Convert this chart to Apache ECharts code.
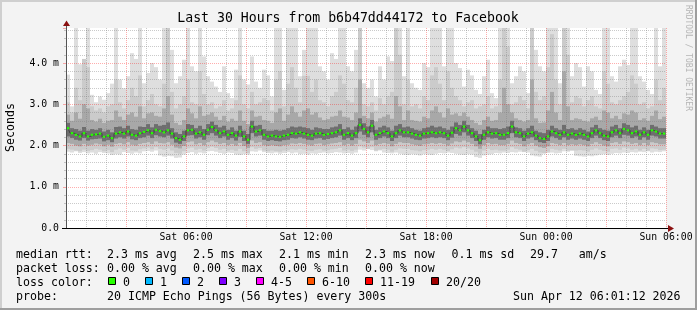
<!DOCTYPE html>
<html><head><meta charset="utf-8">
<script src="https://cdn.jsdelivr.net/npm/echarts@6/dist/echarts.min.js"></script>
<style>html,body{margin:0;padding:0;background:#f3f3f3}#c{width:697px;height:310px}</style>
</head><body><div id="c"></div>
<script>
// ---------- data ----------
const STEP_HOURS = 0.2; // one column = 12 minutes, 150 columns = 30 hours
const xTickHours = [6, 12, 18, 24, 30];
const xTickText = ['Sat 06:00', 'Sat 12:00', 'Sat 18:00', 'Sun 00:00', 'Sun 06:00'];

// median rtt (ms)
const pingMedian = [
2.42,2.30,2.26,2.22,2.30,2.22,2.26,2.27,2.29,2.21,
2.24,2.18,2.29,2.32,2.29,2.34,2.26,2.24,2.30,2.33,
2.37,2.30,2.38,2.35,2.32,2.37,2.29,2.18,2.14,2.22,
2.37,2.38,2.29,2.32,2.26,2.38,2.45,2.37,2.30,2.34,
2.26,2.30,2.24,2.34,2.22,2.14,2.46,2.34,2.37,2.26,
2.22,2.24,2.22,2.21,2.24,2.26,2.30,2.29,2.32,2.29,
2.26,2.24,2.29,2.30,2.26,2.28,2.30,2.32,2.37,2.26,
2.30,2.24,2.30,2.50,2.40,2.32,2.48,2.26,2.30,2.34,
2.30,2.22,2.30,2.37,2.32,2.32,2.29,2.26,2.24,2.29,
2.30,2.32,2.30,2.32,2.30,2.24,2.31,2.42,2.37,2.46,
2.37,2.30,2.22,2.13,2.26,2.32,2.29,2.30,2.26,2.26,
2.30,2.46,2.32,2.30,2.22,2.29,2.32,2.24,2.18,2.16,
2.22,2.34,2.30,2.26,2.32,2.26,2.29,2.26,2.29,2.26,
2.22,2.30,2.37,2.30,2.24,2.22,2.32,2.37,2.30,2.40,
2.37,2.30,2.34,2.26,2.32,2.26,2.37,2.34,2.29,2.29];

// smoke envelope: slowest ping of each step (clipped at the top of the graph)
const pingMax = [
3.72,2.95,4.85,3.97,4.08,4.85,3.23,3.05,3.19,3.11,
3.27,3.50,4.85,3.60,3.39,3.68,4.24,4.10,4.85,3.51,
3.76,4.00,3.90,3.60,4.85,4.85,4.32,3.51,3.68,4.08,
4.85,3.92,3.80,4.85,4.16,3.68,3.55,3.43,3.30,3.92,
3.27,3.15,3.84,4.85,3.60,3.48,4.16,3.55,3.40,3.84,
3.70,3.19,4.85,4.85,3.35,4.85,4.85,4.85,3.68,4.32,
4.85,4.85,4.85,3.92,3.80,3.60,4.24,4.10,4.85,4.85,
3.92,3.80,4.32,4.85,3.51,3.40,3.60,3.19,3.92,3.60,
4.16,4.05,4.85,4.85,3.68,4.85,3.51,3.40,3.35,4.00,
3.90,4.85,4.85,4.85,3.92,4.85,4.85,4.00,3.88,3.43,
3.84,3.70,3.35,3.25,3.68,4.08,3.27,3.15,4.85,4.85,
4.85,3.51,3.68,3.92,3.80,3.27,4.85,4.32,3.92,3.80,
4.85,4.85,4.85,3.51,4.85,4.85,3.68,4.00,3.90,3.43,
3.92,3.80,3.35,3.25,4.85,4.85,3.68,3.55,3.92,4.08,
3.95,4.85,4.85,3.68,3.55,3.35,3.25,4.85,3.92,4.85];

// upper edge of the second smoke band
const pingHigh = [
3.05,2.80,3.40,3.10,4.10,3.90,2.95,2.85,2.90,2.80,
2.95,3.00,3.60,3.05,2.90,3.10,3.40,3.20,3.70,2.95,
3.10,3.25,3.00,2.95,3.50,4.85,3.30,2.90,3.00,3.20,
3.60,3.05,3.00,3.80,3.25,3.00,3.05,2.90,2.95,3.10,
2.85,2.90,3.10,3.70,3.00,2.90,3.30,3.00,3.05,3.15,
3.10,2.85,3.60,3.80,2.95,3.50,3.90,3.40,3.05,3.69,
3.69,3.30,3.60,3.10,3.05,2.95,3.20,3.30,3.70,3.50,
3.10,3.05,3.40,4.85,3.00,2.95,3.05,2.85,3.15,3.00,
3.20,3.30,4.85,4.20,3.00,3.60,2.95,3.00,2.90,3.20,
3.10,3.70,3.90,3.50,3.10,3.80,3.40,3.20,3.10,2.95,
3.05,3.10,2.90,2.95,3.00,3.20,2.90,2.95,3.60,4.85,
4.40,3.00,3.05,3.20,3.10,2.90,4.85,3.30,3.10,3.20,
3.90,4.70,3.60,3.00,4.85,4.20,3.05,3.20,3.15,2.95,
3.10,3.20,2.95,2.90,3.80,3.50,3.05,3.00,3.10,3.20,
3.30,3.70,3.50,3.00,3.05,2.90,2.95,3.60,3.10,3.40];

// upper edge of the middle smoke band
const pingMidHigh = [
2.75,2.60,2.80,2.65,3.00,2.90,2.62,2.58,2.65,2.55,
2.60,2.62,2.85,2.70,2.62,2.75,2.80,2.70,2.95,2.66,
2.78,2.80,2.72,2.70,2.90,3.20,2.75,2.55,2.50,2.62,
2.90,2.78,2.66,2.95,2.72,2.75,2.80,2.70,2.62,2.72,
2.58,2.65,2.60,2.85,2.60,2.52,2.85,2.70,2.72,2.62,
2.60,2.55,2.80,2.90,2.60,2.75,2.95,2.80,2.70,2.85,
2.90,2.75,2.80,2.68,2.62,2.64,2.70,2.72,2.85,2.70,
2.68,2.62,2.80,3.60,2.72,2.66,2.80,2.58,2.66,2.70,
2.75,2.65,3.20,2.95,2.62,2.85,2.62,2.60,2.58,2.70,
2.66,2.85,2.95,2.80,2.68,2.90,2.75,2.78,2.72,2.80,
2.70,2.62,2.55,2.50,2.62,2.70,2.60,2.62,2.80,3.40,
3.00,2.80,2.66,2.62,2.58,2.62,3.60,2.66,2.55,2.56,
2.85,3.30,2.80,2.62,3.80,2.95,2.62,2.66,2.64,2.60,
2.58,2.66,2.70,2.62,2.85,2.80,2.66,2.72,2.64,2.78,
2.75,2.85,2.80,2.62,2.66,2.60,2.72,2.85,2.64,2.70];

// upper edge of the dark core
const pingCoreHigh = [
2.55,2.42,2.40,2.36,2.45,2.36,2.40,2.38,2.42,2.34,
2.38,2.32,2.45,2.46,2.42,2.48,2.40,2.38,2.46,2.45,
2.52,2.44,2.52,2.48,2.50,2.56,2.42,2.32,2.28,2.36,
2.52,2.50,2.42,2.48,2.40,2.52,2.58,2.50,2.44,2.48,
2.38,2.44,2.36,2.48,2.36,2.28,2.60,2.48,2.50,2.40,
2.36,2.36,2.38,2.36,2.38,2.42,2.46,2.44,2.46,2.44,
2.42,2.38,2.44,2.42,2.40,2.40,2.44,2.46,2.52,2.40,
2.44,2.38,2.46,2.66,2.54,2.46,2.62,2.38,2.44,2.48,
2.44,2.36,2.48,2.52,2.44,2.46,2.42,2.38,2.36,2.42,
2.44,2.48,2.44,2.46,2.42,2.38,2.46,2.56,2.50,2.60,
2.50,2.42,2.36,2.28,2.38,2.46,2.42,2.42,2.40,2.42,
2.46,2.60,2.44,2.42,2.36,2.42,2.48,2.36,2.32,2.30,
2.38,2.48,2.42,2.38,2.50,2.40,2.42,2.38,2.42,2.38,
2.34,2.44,2.50,2.42,2.38,2.36,2.46,2.50,2.42,2.54,
2.50,2.44,2.48,2.38,2.44,2.38,2.50,2.46,2.42,2.42];

// lower edge of the dark core
const pingCoreLow = [
2.22,2.18,2.14,2.12,2.18,2.12,2.15,2.16,2.17,2.10,
2.13,2.08,2.17,2.20,2.17,2.22,2.15,2.13,2.18,2.20,
2.24,2.18,2.25,2.22,2.20,2.24,2.17,2.07,2.04,2.11,
2.24,2.25,2.17,2.20,2.14,2.25,2.30,2.24,2.18,2.22,
2.14,2.18,2.12,2.21,2.11,2.04,2.30,2.22,2.24,2.14,
2.11,2.13,2.11,2.10,2.13,2.14,2.18,2.17,2.20,2.17,
2.14,2.13,2.17,2.18,2.14,2.16,2.18,2.20,2.24,2.14,
2.18,2.13,2.18,2.34,2.26,2.20,2.32,2.14,2.18,2.22,
2.18,2.11,2.18,2.24,2.20,2.20,2.17,2.14,2.13,2.17,
2.18,2.20,2.18,2.20,2.18,2.13,2.19,2.28,2.24,2.32,
2.24,2.18,2.11,2.03,2.14,2.20,2.17,2.18,2.14,2.14,
2.18,2.30,2.20,2.18,2.11,2.17,2.20,2.13,2.08,2.06,
2.11,2.22,2.18,2.14,2.20,2.14,2.17,2.14,2.17,2.14,
2.11,2.18,2.24,2.18,2.13,2.11,2.20,2.24,2.18,2.26,
2.24,2.18,2.22,2.14,2.20,2.14,2.24,2.22,2.17,2.17];

// lower edge of the middle smoke band
const pingMidLow = [
2.06,2.04,2.00,1.98,2.04,2.00,2.02,2.05,2.03,1.98,
2.02,1.97,2.04,2.06,2.03,2.08,2.02,2.00,2.04,2.06,
2.08,2.04,2.10,2.06,2.05,2.08,2.02,1.95,1.93,1.99,
2.08,2.10,2.03,2.06,2.01,2.08,2.12,2.08,2.04,2.06,
2.01,2.04,2.00,2.06,1.99,1.94,2.12,2.06,2.08,2.01,
1.99,2.01,1.99,1.98,2.01,2.02,2.05,2.04,2.06,2.04,
2.02,2.00,2.04,2.05,2.01,2.03,2.05,2.06,2.08,2.01,
2.04,2.00,2.04,2.14,2.10,2.06,2.12,2.01,2.04,2.06,
2.04,1.98,2.04,2.08,2.06,2.06,2.03,2.01,1.99,2.03,
2.04,2.06,2.04,2.06,2.04,2.00,2.05,2.10,2.08,2.12,
2.08,2.04,1.98,1.92,2.01,2.06,2.03,2.04,2.01,2.01,
2.04,2.12,2.06,2.04,1.98,2.03,2.06,2.00,1.96,1.94,
1.98,2.06,2.04,2.01,2.06,2.01,2.03,2.01,2.03,2.01,
1.98,2.04,2.08,2.04,2.00,1.98,2.06,2.08,2.04,2.10,
2.08,2.04,2.06,2.01,2.06,2.01,2.08,2.06,2.03,2.03];

// lower edge of the second smoke band
const pingLow = [
1.92,1.90,1.88,1.86,1.90,1.87,1.89,1.92,1.90,1.86,
1.89,1.84,1.90,1.93,1.90,1.94,1.88,1.87,1.91,1.93,
1.95,1.91,1.96,1.92,1.90,1.93,1.88,1.82,1.80,1.86,
1.93,1.95,1.90,1.92,1.88,1.94,1.97,1.94,1.90,1.92,
1.88,1.90,1.87,1.92,1.86,1.82,1.96,1.92,1.94,1.88,
1.86,1.88,1.86,1.85,1.88,1.89,1.91,1.90,1.92,1.90,
1.88,1.87,1.90,1.91,1.88,1.89,1.91,1.92,1.94,1.88,
1.90,1.87,1.90,1.98,1.95,1.92,1.96,1.88,1.90,1.92,
1.90,1.85,1.90,1.93,1.92,1.92,1.89,1.88,1.86,1.89,
1.90,1.92,1.90,1.92,1.90,1.87,1.91,1.95,1.93,1.96,
1.93,1.90,1.85,1.80,1.88,1.92,1.89,1.90,1.88,1.88,
1.90,1.96,1.92,1.90,1.85,1.89,1.92,1.87,1.83,1.82,
1.85,1.92,1.90,1.88,1.92,1.88,1.89,1.88,1.89,1.88,
1.85,1.90,1.93,1.90,1.87,1.85,1.92,1.93,1.90,1.95,
1.93,1.90,1.92,1.88,1.92,1.88,1.93,1.92,1.89,1.90];

// fastest ping of each step
const pingMin = [
1.85,1.83,1.86,1.82,1.84,1.81,1.83,1.80,1.84,1.82,
1.81,1.77,1.79,1.78,1.84,1.82,1.80,1.83,1.81,1.86,
1.87,1.85,1.88,1.76,1.73,1.75,1.74,1.70,1.71,1.78,
1.82,1.84,1.80,1.83,1.81,1.86,1.87,1.85,1.82,1.80,
1.83,1.82,1.78,1.77,1.79,1.78,1.86,1.85,1.88,1.84,
1.82,1.81,1.83,1.80,1.82,1.84,1.81,1.83,1.79,1.80,
1.78,1.81,1.80,1.82,1.83,1.81,1.82,1.84,1.83,1.81,
1.82,1.80,1.83,1.90,1.88,1.91,1.89,1.86,1.88,1.83,
1.82,1.81,1.83,1.80,1.78,1.77,1.79,1.78,1.76,1.79,
1.78,1.77,1.80,1.82,1.81,1.83,1.82,1.80,1.78,1.77,
1.79,1.78,1.72,1.70,1.76,1.78,1.79,1.82,1.81,1.83,
1.82,1.84,1.83,1.85,1.84,1.83,1.76,1.74,1.73,1.80,
1.82,1.83,1.81,1.82,1.86,1.85,1.87,1.75,1.74,1.73,
1.75,1.74,1.76,1.78,1.79,1.77,1.80,1.82,1.81,1.83,
1.82,1.84,1.83,1.85,1.84,1.86,1.83,1.85,1.84,1.86];

// legend texts
const titleText = 'Last 30 Hours from b6b47dd44172 to Facebook';
const rttStats = ['2.3 ms avg', '2.5 ms max', '2.1 ms min', '2.3 ms now', '0.1 ms sd', '29.7   am/s'];
const lossStats = ['0.00 % avg', '0.00 % max', '0.00 % min', '0.00 % now'];
const lossLabels = ['0', '1', '2', '3', '4-5', '6-10', '11-19', '20/20'];
const lossColors = ['#26ff00', '#00b8ff', '#0059ff', '#7e00ff', '#ff00ff', '#ff5500', '#ff0000', '#a00000'];
const probeText = '20 ICMP Echo Pings (56 Bytes) every 300s';
const stampText = 'Sun Apr 12 06:01:12 2026';

// ---------- chart ----------
const FONT = '"DejaVu Sans Mono"';
const chart = echarts.init(document.getElementById('c'), null, {renderer: 'canvas', width: 697, height: 310});

function band(lo, hi, color) {
  return {
    type: 'custom', z: 2, silent: true, clip: true, animation: false,
    data: lo.map((v, i) => [i * STEP_HOURS, v, hi[i]]),
    renderItem(params, api) {
      const t = api.value(0);
      const a = api.coord([t, api.value(1)]);
      const b = api.coord([t + STEP_HOURS, api.value(2)]);
      return {type: 'rect', shape: {x: a[0], y: b[1], width: b[0] - a[0], height: a[1] - b[1]},
              style: {fill: color}};
    }
  };
}

const medianCenters = pingMedian.map((v, i) => [i * STEP_HOURS + STEP_HOURS / 2, v]);

const series = [
  band(pingMin, pingMax, '#dedede'),
  band(pingLow, pingHigh, '#cbcbcb'),
  band(pingMidLow, pingMidHigh, '#a8a8a8'),
  band(pingCoreLow, pingCoreHigh, '#6e6e6e'),
  {type: 'line', z: 3, data: medianCenters, step: 'middle', symbol: 'none', silent: true,
   animation: false, lineStyle: {color: '#404040', width: 1}},
  {type: 'custom', z: 4, silent: true, animation: false, data: medianCenters,
   renderItem(params, api) {
     const c = api.coord([api.value(0), api.value(1)]);
     return {type: 'rect', shape: {x: c[0] - 1.25, y: c[1] - 1.1, width: 2.5, height: 2.2},
             style: {fill: lossColors[0]}};
   }}
];

const MAJOR = 'rgba(255,0,0,0.32)';
const MINOR = 'rgba(128,128,128,0.42)';

const g = [];
const T = (x, y, text, extra) => Object.assign({type: 'text', x, y, z: 120,
  style: Object.assign({text, fill: '#000', font: '11.6px ' + FONT, verticalAlign: 'middle'}, extra || {})});
// frame
g.push({type: 'rect', z: 110, shape: {x: 0, y: 0, width: 697, height: 2}, style: {fill: '#cfcfcf'}});
g.push({type: 'rect', z: 110, shape: {x: 0, y: 0, width: 2, height: 310}, style: {fill: '#cfcfcf'}});
g.push({type: 'rect', z: 111, shape: {x: 695, y: 0, width: 2, height: 310}, style: {fill: '#9e9e9e'}});
g.push({type: 'rect', z: 111, shape: {x: 0, y: 308, width: 697, height: 2}, style: {fill: '#9e9e9e'}});
// axes with arrows
g.push({type: 'line', z: 115, shape: {x1: 62, y1: 228.5, x2: 669, y2: 228.5}, style: {stroke: '#000', lineWidth: 1}});
g.push({type: 'polygon', z: 116, shape: {points: [[668, 225], [674, 228.5], [668, 232]]}, style: {fill: '#8b1010'}});
g.push({type: 'line', z: 115, shape: {x1: 66.5, y1: 228, x2: 66.5, y2: 25}, style: {stroke: '#555', lineWidth: 1}});
g.push({type: 'polygon', z: 116, shape: {points: [[63, 26], [66.5, 20.5], [70, 26]]}, style: {fill: '#8b1010'}});
// title, axis name, watermark
g.push(T(348, 19, titleText, {font: '13.2px ' + FONT, align: 'center'}));
g.push(Object.assign(T(11, 127.5, 'Seconds', {align: 'center'}), {rotation: Math.PI / 2}));
g.push(Object.assign(T(688, 58, 'RRDTOOL / TOBI OETIKER', {align: 'center', font: '8px ' + FONT, fill: '#b5b5b5'}), {rotation: -Math.PI / 2}));
// legend
const rowY = [254.5, 268.5, 282.5, 296.5];
const statX = [107, 193, 279, 365, 451.5, 530];
g.push(T(16, rowY[0], 'median rtt:'));
rttStats.forEach((s, i) => g.push(T(statX[i], rowY[0], s)));
g.push(T(16, rowY[1], 'packet loss:'));
lossStats.forEach((s, i) => g.push(T(statX[i], rowY[1], s)));
g.push(T(16, rowY[2], 'loss color:'));
const boxX = [108, 145, 182, 219, 256, 307, 365, 431];
lossLabels.forEach((s, i) => {
  g.push({type: 'rect', z: 120, shape: {x: boxX[i] + 0.5, y: 277.5, width: 7, height: 7},
          style: {fill: lossColors[i], stroke: '#000', lineWidth: 1}});
  g.push(T(boxX[i] + 15, rowY[2], s));
});
g.push(T(16, rowY[3], 'probe:'));
g.push(T(107, rowY[3], probeText));
g.push(T(513, rowY[3], stampText));

chart.setOption({
  animation: false,
  backgroundColor: '#f3f3f3',
  grid: {left: 66, top: 28, width: 600, height: 200, show: true, backgroundColor: '#ffffff', borderWidth: 0},
  xAxis: {
    type: 'value', min: 0, max: 30, interval: 3, z: 10,
    axisLine: {show: false}, axisTick: {show: false},
    axisLabel: {margin: 4, fontFamily: 'DejaVu Sans Mono', fontSize: 9.8, color: '#000',
      showMinLabel: true, showMaxLabel: true,
      formatter: v => { const k = xTickHours.indexOf(v); return k >= 0 ? xTickText[k] : ''; }},
    splitLine: {show: true, showMinLine: false, showMaxLine: true, lineStyle: {color: MAJOR, width: 1, type: 'dotted'}},
    minorTick: {show: false, splitNumber: 3},
    minorSplitLine: {show: true, lineStyle: {color: MINOR, width: 1, type: 'dotted'}}
  },
  yAxis: {
    type: 'value', min: 0, max: 4.85, interval: 1, z: 10,
    axisLine: {show: false},
    axisTick: {show: true, length: 3, lineStyle: {color: MAJOR}},
    minorTick: {show: true, splitNumber: 5, length: 2, lineStyle: {color: MINOR}},
    axisLabel: {margin: 7, fontFamily: 'DejaVu Sans Mono', fontSize: 9.8, color: '#000', showMaxLabel: false,
      formatter: v => v === 0 ? '0.0' : v.toFixed(1) + ' m'},
    splitLine: {show: true, showMinLine: false, showMaxLine: false, lineStyle: {color: MAJOR, width: 1, type: 'dotted'}},
    minorSplitLine: {show: true, lineStyle: {color: MINOR, width: 1, type: 'dotted'}}
  },
  series,
  graphic: g
});
</script></body></html>
